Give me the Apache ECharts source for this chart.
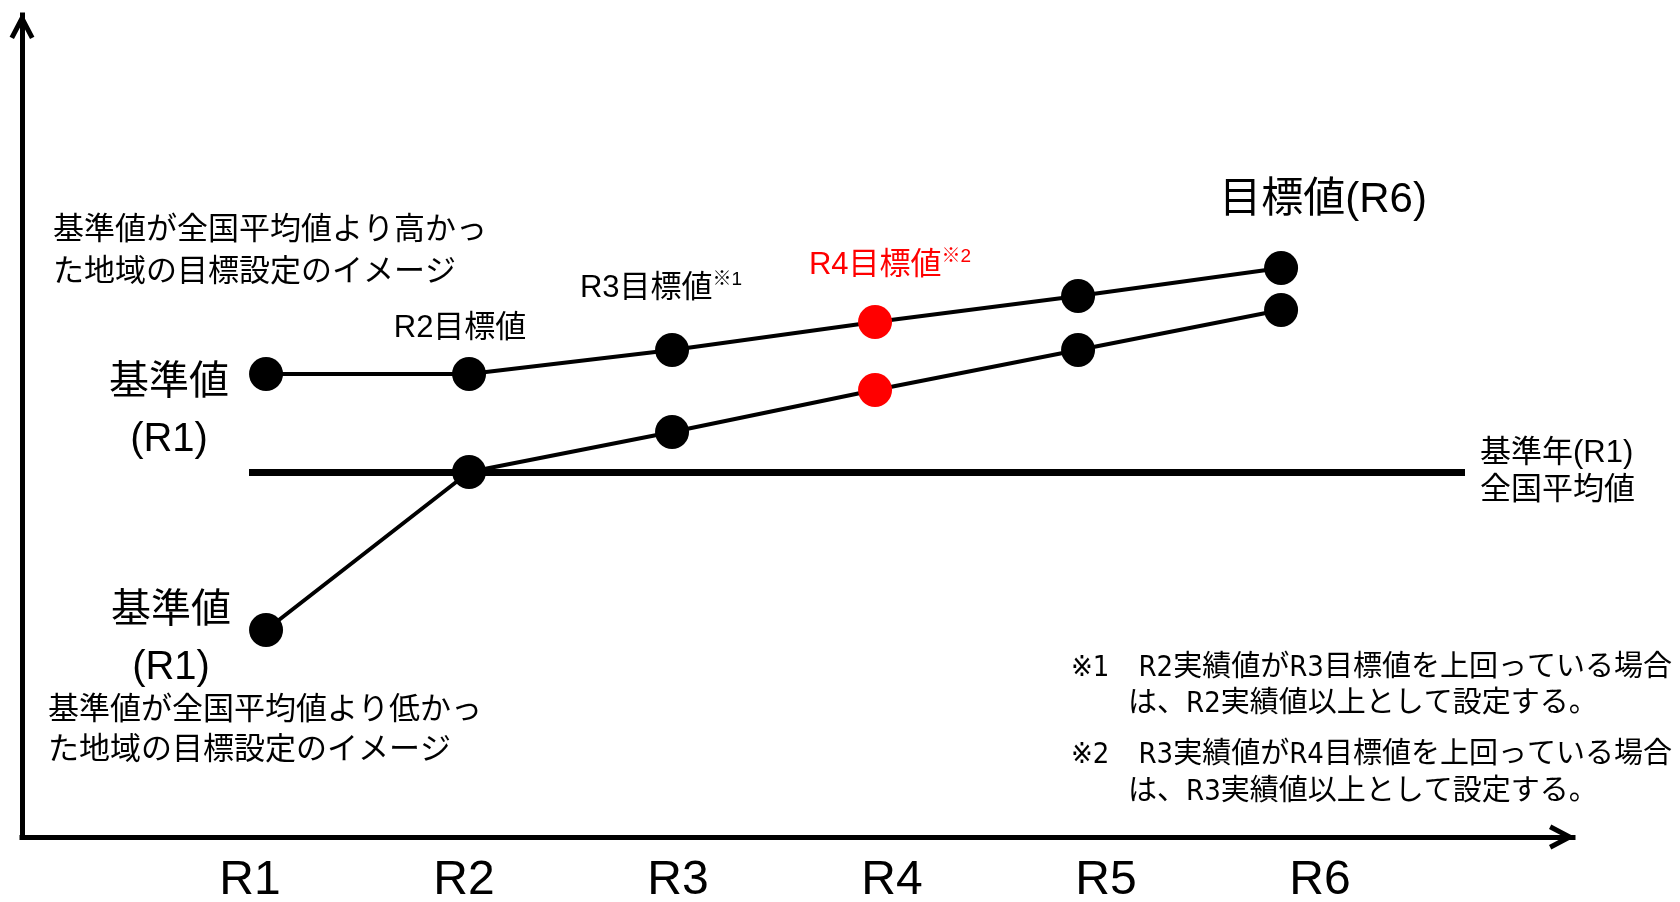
<!DOCTYPE html>
<html lang="ja">
<head>
<meta charset="utf-8">
<title>目標設定のイメージ</title>
<script src="https://cdn.jsdelivr.net/npm/echarts@6/dist/echarts.min.js"></script>
<style>
  html, body { margin: 0; padding: 0; background: #ffffff; }
  #chart { width: 1680px; height: 902px; }
</style>
</head>
<body>
<div id="chart"></div>
<script>
// Fiscal years along the horizontal axis
const years = ['R1', 'R2', 'R3', 'R4', 'R5', 'R6'];
// Target path of a region whose base value was above the national average
const higherPath = [124.5, 124.5, 130.5, 137.5, 144, 151];
// Target path of a region whose base value was below the national average
const lowerPath = [60.5, 100, 110, 120.5, 130.5, 140.5];
// National average in the base year (R1)
const nationalAverage = 100;
// Year whose targets are drawn in red
const highlightYear = 'R4';

// Captions attached to points ('' = no caption)
const higherNotes = ['基準値\n(R1)', 'R2目標値', 'R3目標値', 'R4目標値', '', '目標値(R6)'];
const higherNoteMarks = ['', '', '※1', '※2', '', ''];
const lowerNotes = ['基準値\n(R1)', '', '', '', '', ''];
const averageNote = '基準年(R1)\n全国平均値';
const upperCaption = ['基準値が全国平均値より高かっ', 'た地域の目標設定のイメージ'];
const lowerCaption = ['基準値が全国平均値より低かっ', 'た地域の目標設定のイメージ'];
const footnotes = [
  ['※1　R2実績値がR3目標値を上回っている場合', 'は、R2実績値以上として設定する。'],
  ['※2　R3実績値がR4目標値を上回っている場合', 'は、R3実績値以上として設定する。']
];

const BLACK = '#000000';
const RED = '#ff0000';
const FONT = "'Liberation Sans', 'Noto Sans CJK JP', sans-serif";
const NARROW = "'Liberation Sans Narrow', 'DejaVu Sans Condensed', 'Liberation Sans', 'Noto Sans CJK JP', sans-serif";
// open chevron used as the arrow head of both axes (points up before rotation)
const ARROW = 'path://M14,0 L26.5,23.9 L22.1,26.2 L14,10.8 L5.9,26.2 L1.5,23.9 Z';

const hiIndex = years.indexOf(highlightYear);

// where each caption sits relative to its point
const higherPlacement = [
  { position: 'left', distance: 80, align: 'center', offset: [0, 37], size: 40, lineHeight: 57 },
  { position: 'top', distance: 11, offset: [-9, 0], size: 31, lineHeight: 36 },
  { position: 'top', distance: 27, offset: [-11, 0], size: 31, lineHeight: 36 },
  { position: 'top', distance: 22, offset: [15, 0], size: 31, lineHeight: 36 },
  null,
  { position: 'top', distance: 26, offset: [42, 0], size: 42, lineHeight: 50 }
];
const lowerPlacement = [
  { position: 'left', distance: 78, align: 'center', offset: [0, 9], size: 40, lineHeight: 57 },
  null, null, null, null, null
];

function pointLabel(text, mark, place, color) {
  if (!text || !place) return { show: false };
  const label = {
    show: true,
    position: place.position,
    distance: place.distance,
    offset: place.offset,
    color: color
  };
  if (place.align) label.align = place.align;
  if (mark) {
    label.formatter = '{m|' + text + '}{s|' + mark + '}';
    label.rich = {
      m: { fontSize: place.size, lineHeight: place.lineHeight, fontFamily: FONT, color: color },
      s: { fontSize: 19, lineHeight: 19, fontFamily: FONT, color: color, verticalAlign: 'top' }
    };
  } else {
    label.formatter = text;
    label.fontSize = place.size;
    label.lineHeight = place.lineHeight;
    label.fontFamily = FONT;
  }
  return label;
}

function points(values, notes, marks, placement) {
  return values.map(function (v, i) {
    const color = i === hiIndex ? RED : BLACK;
    return {
      value: [i + 1, v],
      itemStyle: { color: color },
      label: pointLabel(notes[i], marks ? marks[i] : '', placement[i], color)
    };
  });
}

function textLine(text, x, y, size, family) {
  return {
    type: 'text',
    x: x,
    y: y,
    silent: true,
    style: {
      text: text,
      fontSize: size,
      fontFamily: family,
      fill: BLACK,
      align: 'left',
      verticalAlign: 'middle'
    }
  };
}

const graphics = [];
upperCaption.forEach(function (t, i) { graphics.push(textLine(t, 53, 230 + 42 * i, 31, FONT)); });
lowerCaption.forEach(function (t, i) { graphics.push(textLine(t, 48, 710 + 40 * i, 31, FONT)); });
footnotes.forEach(function (note, k) {
  graphics.push(textLine(note[0], 1071, 668 + 87 * k, 29, NARROW));
  graphics.push(textLine(note[1], 1128, 704 + 88 * k, 29, NARROW));
});

const frameAxis = {
  gridIndex: 0,
  type: 'value',
  min: 0,
  max: 1,
  axisLine: {
    show: true,
    onZero: false,
    symbol: ['none', ARROW],
    symbolSize: [25, 26],
    symbolOffset: [0, -11],
    lineStyle: { color: BLACK, width: 5, cap: 'square' }
  },
  axisTick: { show: false },
  axisLabel: { show: false },
  splitLine: { show: false }
};

const option = {
  animation: false,
  backgroundColor: '#ffffff',
  grid: [
    // frame holding the two arrowed axes
    { left: 22, right: 107, top: 15, bottom: 65, outerBoundsMode: 'none' },
    // plotting area of the two target paths
    { left: 249, right: 215, top: 232, bottom: 190, outerBoundsMode: 'none' },
    // strip carrying the year labels under the horizontal axis
    { left: 250, right: 360, top: 780, bottom: 65, outerBoundsMode: 'none' }
  ],
  xAxis: [
    frameAxis,
    { gridIndex: 1, type: 'value', min: 0.916, max: 6.906, show: false },
    {
      gridIndex: 2,
      type: 'category',
      data: years,
      boundaryGap: false,
      axisLine: { show: false },
      axisTick: { show: false },
      splitLine: { show: false },
      axisLabel: { interval: 0, margin: 20, fontSize: 48, fontFamily: "'Liberation Sans', Arial, sans-serif", color: BLACK }
    }
  ],
  yAxis: [
    Object.assign({}, frameAxis),
    { gridIndex: 1, type: 'value', min: 40, max: 160, show: false },
    { gridIndex: 2, type: 'value', show: false }
  ],
  series: [
    {
      // national average reference line
      type: 'line',
      xAxisIndex: 1,
      yAxisIndex: 1,
      data: [],
      z: 1,
      markLine: {
        silent: true,
        symbol: ['none', 'none'],
        lineStyle: { color: BLACK, width: 7, type: 'solid' },
        label: {
          show: true,
          position: 'end',
          distance: 15,
          formatter: averageNote,
          fontSize: 31,
          lineHeight: 37,
          fontFamily: FONT,
          color: BLACK
        },
        emphasis: { disabled: true },
        data: [{ yAxis: nationalAverage }]
      }
    },
    {
      name: '高かった地域',
      type: 'line',
      xAxisIndex: 1,
      yAxisIndex: 1,
      z: 3,
      clip: false,
      symbol: 'circle',
      symbolSize: 34,
      lineStyle: { color: BLACK, width: 4 },
      itemStyle: { color: BLACK },
      emphasis: { disabled: true },
      data: points(higherPath, higherNotes, higherNoteMarks, higherPlacement)
    },
    {
      name: '低かった地域',
      type: 'line',
      xAxisIndex: 1,
      yAxisIndex: 1,
      z: 3,
      clip: false,
      symbol: 'circle',
      symbolSize: 34,
      lineStyle: { color: BLACK, width: 4 },
      itemStyle: { color: BLACK },
      emphasis: { disabled: true },
      data: points(lowerPath, lowerNotes, null, lowerPlacement)
    }
  ],
  graphic: graphics
};

const chart = echarts.init(document.getElementById('chart'), null, { renderer: 'canvas' });
chart.setOption(option);
</script>
</body>
</html>
